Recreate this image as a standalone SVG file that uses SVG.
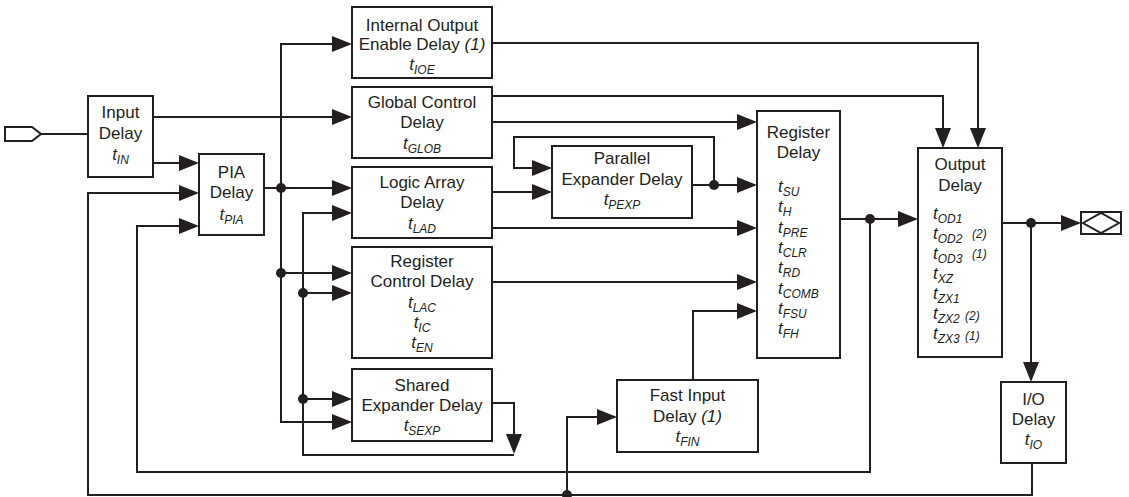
<svg xmlns="http://www.w3.org/2000/svg" width="1129" height="497" viewBox="0 0 1129 497">
<style>
.box{fill:#fff;stroke:#231f20;stroke-width:2}
.ln{fill:none;stroke:#231f20;stroke-width:2}
.a{marker-end:url(#ah)}
.dot{fill:#231f20}
text{font-family:"Liberation Sans",Arial,Helvetica,sans-serif;font-size:17px;fill:#231f20}
.c{text-anchor:middle}
.i{font-style:italic}
.s{font-size:12px}
</style>
<defs>
<marker id="ah" markerUnits="userSpaceOnUse" markerWidth="20" markerHeight="16" viewBox="0 0 20 16" refX="10" refY="8" orient="auto">
<path d="M0,0 L20,8 L0,16 z" fill="#231f20"/>
</marker>
</defs>
<rect width="1129" height="497" fill="#fff"/>

<g id="connectors">
<path class="ln" d="M41,134 H88"/>
<path class="ln a" d="M153,117 H342"/>
<path class="ln a" d="M153,163 H189"/>
<path class="ln a" d="M264,188 H342"/>
<path class="ln a" d="M281,188 V44 H342"/>
<path class="ln a" d="M281,188 V422 H342"/>
<path class="ln a" d="M281,273 H342"/>
<path class="ln a" d="M514,455 H303 V213 H342"/>
<path class="ln a" d="M303,293 H342"/>
<path class="ln a" d="M303,399 H342"/>
<path class="ln a" d="M492,403 H514 V444"/>
<path class="ln a" d="M492,96 H943 V138"/>
<path class="ln a" d="M492,122 H747"/>
<path class="ln a" d="M492,43 H978 V138"/>
<path class="ln a" d="M492,192 H542"/>
<path class="ln a" d="M492,228 H747"/>
<path class="ln a" d="M692,185 H747"/>
<path class="ln a" d="M714,185 V137 H514 V168 H542"/>
<path class="ln a" d="M492,282 H747"/>
<path class="ln a" d="M693,380 V311 H747"/>
<path class="ln a" d="M840,219 H908"/>
<path class="ln a" d="M870,219 V472 H137 V226 H189"/>
<path class="ln a" d="M1002,223 H1071"/>
<path class="ln a" d="M1031,223 V372"/>
<path class="ln a" d="M1032,463 V495 H88 V193 H189"/>
<path class="ln a" d="M567,495 V417 H607"/>
<circle class="dot" cx="281" cy="188" r="5"/>
<circle class="dot" cx="281" cy="273" r="5"/>
<circle class="dot" cx="303" cy="293" r="5"/>
<circle class="dot" cx="303" cy="399" r="5"/>
<circle class="dot" cx="714" cy="185" r="5"/>
<circle class="dot" cx="870" cy="219" r="5"/>
<circle class="dot" cx="1031" cy="223" r="5"/>
<circle class="dot" cx="567" cy="495" r="5"/>
</g>

<g id="input-pin">
<polygon class="box" points="5,127 32,127 41,134 32,141 5,141"/>
</g>

<g id="io-pin">
<rect class="box" x="1081" y="212" width="40" height="22"/>
<polygon class="ln" points="1083,223 1101,213 1119,223 1101,233"/>
</g>

<g id="input-delay">
<rect class="box" x="88" y="96" width="65" height="81"/>
<text class="c" x="120.5" y="118">Input</text>
<text class="c" x="120.5" y="139">Delay</text>
<text class="c i" x="120.5" y="160">t<tspan class="s" dy="4">IN</tspan></text>
</g>

<g id="pia-delay">
<rect class="box" x="199" y="154" width="65" height="81"/>
<text class="c" x="231.5" y="178">PIA</text>
<text class="c" x="231.5" y="198">Delay</text>
<text class="c i" x="231.5" y="220">t<tspan class="s" dy="4">PIA</tspan></text>
</g>

<g id="internal-output-enable-delay">
<rect class="box" x="352" y="7" width="140" height="71"/>
<text class="c" x="422" y="31">Internal Output</text>
<text class="c" x="422" y="50">Enable Delay <tspan class="i">(1)</tspan></text>
<text class="c i" x="422" y="70">t<tspan class="s" dy="4">IOE</tspan></text>
</g>

<g id="global-control-delay">
<rect class="box" x="352" y="87" width="140" height="71"/>
<text class="c" x="422" y="108">Global Control</text>
<text class="c" x="422" y="128">Delay</text>
<text class="c i" x="422" y="149">t<tspan class="s" dy="4">GLOB</tspan></text>
</g>

<g id="logic-array-delay">
<rect class="box" x="352" y="167" width="140" height="71"/>
<text class="c" x="422" y="188">Logic Array</text>
<text class="c" x="422" y="208">Delay</text>
<text class="c i" x="422" y="229">t<tspan class="s" dy="4">LAD</tspan></text>
</g>

<g id="register-control-delay">
<rect class="box" x="352" y="247" width="140" height="111"/>
<text class="c" x="422" y="267">Register</text>
<text class="c" x="422" y="287">Control Delay</text>
<text class="c i" x="422" y="308">t<tspan class="s" dy="4">LAC</tspan></text>
<text class="c i" x="422" y="328">t<tspan class="s" dy="4">IC</tspan></text>
<text class="c i" x="422" y="348">t<tspan class="s" dy="4">EN</tspan></text>
</g>

<g id="shared-expander-delay">
<rect class="box" x="352" y="369" width="140" height="72"/>
<text class="c" x="422" y="391">Shared</text>
<text class="c" x="422" y="411">Expander Delay</text>
<text class="c i" x="422" y="431">t<tspan class="s" dy="4">SEXP</tspan></text>
</g>

<g id="parallel-expander-delay">
<rect class="box" x="552" y="146" width="140" height="72"/>
<text class="c" x="622" y="164">Parallel</text>
<text class="c" x="622" y="185">Expander Delay</text>
<text class="c i" x="622" y="205">t<tspan class="s" dy="4">PEXP</tspan></text>
</g>

<g id="fast-input-delay">
<rect class="box" x="617" y="380" width="141" height="72"/>
<text class="c" x="687.5" y="401">Fast Input</text>
<text class="c" x="687.5" y="422">Delay <tspan class="i">(1)</tspan></text>
<text class="c i" x="687.5" y="442">t<tspan class="s" dy="4">FIN</tspan></text>
</g>

<g id="register-delay">
<rect class="box" x="757" y="111" width="83" height="247"/>
<text class="c" x="798.5" y="138">Register</text>
<text class="c" x="798.5" y="158">Delay</text>
<text class="i" x="778" y="192">t<tspan class="s" dy="4">SU</tspan></text>
<text class="i" x="778" y="212">t<tspan class="s" dy="4">H</tspan></text>
<text class="i" x="778" y="233">t<tspan class="s" dy="4">PRE</tspan></text>
<text class="i" x="778" y="253">t<tspan class="s" dy="4">CLR</tspan></text>
<text class="i" x="778" y="273">t<tspan class="s" dy="4">RD</tspan></text>
<text class="i" x="778" y="294">t<tspan class="s" dy="4">COMB</tspan></text>
<text class="i" x="778" y="314">t<tspan class="s" dy="4">FSU</tspan></text>
<text class="i" x="778" y="334">t<tspan class="s" dy="4">FH</tspan></text>
</g>

<g id="output-delay">
<rect class="box" x="918" y="148" width="84" height="209"/>
<text class="c" x="960" y="170">Output</text>
<text class="c" x="960" y="191">Delay</text>
<text class="i" x="933" y="219">t<tspan class="s" dy="4">OD1</tspan></text>
<text class="i" x="933" y="239">t<tspan class="s" dy="4">OD2</tspan><tspan class="s" x="972" y="238">(2)</tspan></text>
<text class="i" x="933" y="259">t<tspan class="s" dy="4">OD3</tspan><tspan class="s" x="972" y="258">(1)</tspan></text>
<text class="i" x="933" y="279">t<tspan class="s" dy="4">XZ</tspan></text>
<text class="i" x="933" y="299">t<tspan class="s" dy="4">ZX1</tspan></text>
<text class="i" x="933" y="319">t<tspan class="s" dy="4">ZX2</tspan><tspan class="s" x="965" y="320">(2)</tspan></text>
<text class="i" x="933" y="339">t<tspan class="s" dy="4">ZX3</tspan><tspan class="s" x="965" y="340">(1)</tspan></text>
</g>

<g id="io-delay">
<rect class="box" x="1001" y="382" width="65" height="81"/>
<text class="c" x="1033.5" y="405">I/O</text>
<text class="c" x="1033.5" y="425">Delay</text>
<text class="c i" x="1033.5" y="445">t<tspan class="s" dy="4">IO</tspan></text>
</g>
</svg>
